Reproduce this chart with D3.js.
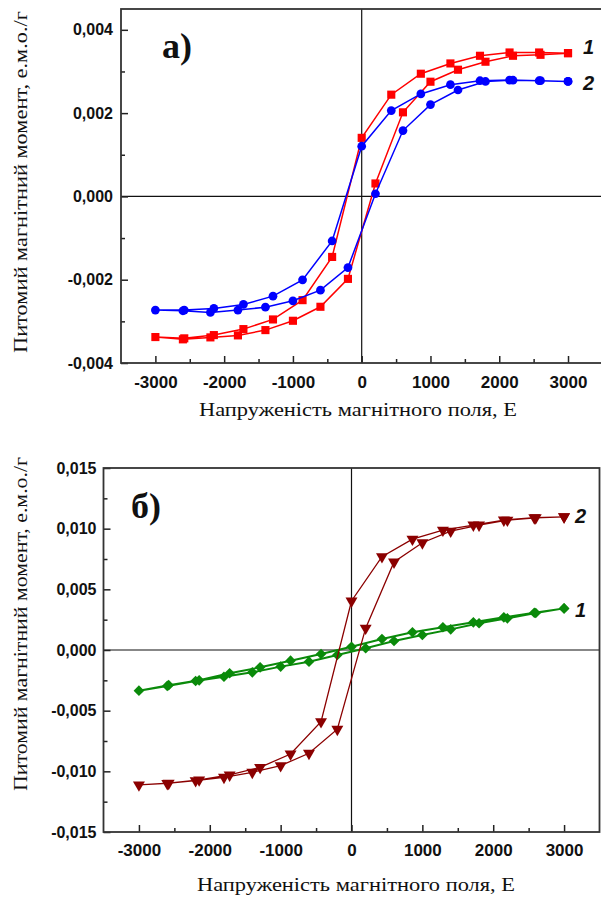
<!DOCTYPE html>
<html>
<head>
<meta charset="utf-8">
<script src="https://cdn.jsdelivr.net/npm/d3@7/dist/d3.min.js"></script>
<style>
  html, body { margin: 0; padding: 0; background: #fff; }
  svg { display: block; }
  .tick text { font-family: "Liberation Sans", Arial, sans-serif; font-weight: bold; font-size: 16px; fill: #111; }
  .domain { display: none; }
</style>
</head>
<body>
<svg id="chart" width="601" height="899"></svg>
<script>
// ---------- data ----------
const fieldDesc = [3000, 2580, 2150, 1720, 1290, 860, 430, 0, -430, -860, -1290, -1720, -2150, -2580, -3000];
const fieldAsc  = [-3000, -2600, -2200, -1800, -1400, -1000, -600, -200, 200, 600, 1000, 1400, 1800, 2200, 2600, 3000];

// panel a) sample 1 (red squares)
const a1Desc = [0.00344, 0.003456, 0.003456, 0.003377, 0.003193, 0.002946, 0.002443, 0.001406, -0.001453, -0.002491, -0.002954, -0.003186, -0.00333, -0.003408, -0.003377];
const a1Asc  = [-0.003377, -0.003432, -0.003385, -0.003337, -0.00321, -0.002986, -0.00265, -0.00198, 0.000311, 0.002019, 0.002754, 0.003042, 0.003234, 0.003377, 0.0034, 0.00344];
// panel a) sample 2 (blue circles)
const a2Desc = [0.002762, 0.002778, 0.002794, 0.002778, 0.002683, 0.00246, 0.00206, 0.001205, -0.00107, -0.002004, -0.002395, -0.002594, -0.00269, -0.00273, -0.00273];
const a2Asc  = [-0.00273, -0.002746, -0.002786, -0.00273, -0.002659, -0.002507, -0.002252, -0.001709, 0.000064, 0.001581, 0.002204, 0.002555, 0.00276, 0.00279, 0.00278, 0.002762];
// panel б) sample 1 (green diamonds)
const b1Desc = [0.00343, 0.00307, 0.00269, 0.00228, 0.00187, 0.00146, 0.00091, 0.00027, -0.00033, -0.00088, -0.00143, -0.00192, -0.0025, -0.0029, -0.00335];
const b1Asc  = [-0.00335, -0.00296, -0.00255, -0.0022, -0.00184, -0.00137, -0.00096, -0.00041, 0.00014, 0.00074, 0.00124, 0.0017, 0.0022, 0.00261, 0.00305, 0.00343];
// panel б) sample 2 (dark red triangles)
const b2Desc = [0.01098, 0.0109, 0.01071, 0.0103, 0.00988, 0.00914, 0.00769, 0.00404, -0.0059, -0.00857, -0.00967, -0.0103, -0.01071, -0.01098, -0.01112];
const b2Asc  = [-0.01112, -0.011, -0.01077, -0.01049, -0.01008, -0.00953, -0.00851, -0.00653, 0.0018, 0.00725, 0.00884, 0.0098, 0.0103, 0.0107, 0.0109, 0.01098];

const xTicksMajor = [-3000, -2000, -1000, 0, 1000, 2000, 3000];
const xTicksMinor = [-2500, -1500, -500, 500, 1500, 2500];
const yTicksA = [-0.004, -0.002, 0, 0.002, 0.004];
const yTicksAMinor = [-0.003, -0.001, 0.001, 0.003];
const yTicksB = [-0.015, -0.010, -0.005, 0, 0.005, 0.010, 0.015];
const yTicksBMinor = [-0.0125, -0.0075, -0.0025, 0.0025, 0.0075, 0.0125];

const xTitle = "Напруженість магнітного поля, Е";
const yTitle = "Питомий магнітний момент, е.м.о./г";

// ---------- drawing ----------
const svg = d3.select("#chart");
const loc = d3.formatLocale({decimal: ",", thousands: "", grouping: [3], currency: ["", ""], minus: "-"});
const fmtY = loc.format(".3f");
const fmtX = loc.format("d");

const symbols = {
  square: d3.symbol().type(d3.symbolSquare).size(66),
  circle: d3.symbol().type(d3.symbolCircle).size(60),
  diamond: d3.symbol().type(d3.symbolDiamond2 || d3.symbolDiamond).size(72),
  triangle: d3.symbol().type(d3.symbolTriangle).size(62)
};

function panel(cfg) {
  const x = d3.scaleLinear().domain([-3500, 3500]).range([cfg.left, cfg.right]);
  const y = d3.scaleLinear().domain(cfg.yDomain).range([cfg.bottom, cfg.top]);
  const g = svg.append("g");

  // zero lines
  g.append("line").attr("x1", cfg.left).attr("x2", cfg.right).attr("y1", y(0)).attr("y2", y(0))
    .attr("stroke", "#111").attr("stroke-width", 1.2);
  g.append("line").attr("x1", x(0)).attr("x2", x(0)).attr("y1", cfg.top).attr("y2", cfg.bottom)
    .attr("stroke", "#111").attr("stroke-width", 1.2);

  // axes
  g.append("g").attr("transform", `translate(0,${cfg.bottom})`)
    .call(d3.axisBottom(x).tickValues(xTicksMajor).tickSize(-7).tickPadding(cfg.xPad).tickFormat(fmtX))
    .call(s => s.selectAll("line").attr("stroke", "#222").attr("stroke-width", 1.5))
    .call(s => s.selectAll("text").style("font-size", "17px"));
  g.append("g").attr("transform", `translate(0,${cfg.bottom})`)
    .call(d3.axisBottom(x).tickValues(xTicksMinor).tickSize(-4).tickFormat(""))
    .call(s => s.selectAll("line").attr("stroke", "#222").attr("stroke-width", 1.5));
  g.append("g").attr("transform", `translate(${cfg.left},0)`)
    .call(d3.axisLeft(y).tickValues(cfg.yTicks).tickSize(-7).tickPadding(cfg.yPad).tickFormat(fmtY))
    .call(s => s.selectAll("line").attr("stroke", "#222").attr("stroke-width", 1.5));
  g.append("g").attr("transform", `translate(${cfg.left},0)`)
    .call(d3.axisLeft(y).tickValues(cfg.yMinor).tickSize(-4).tickFormat(""))
    .call(s => s.selectAll("line").attr("stroke", "#222").attr("stroke-width", 1.5));

  // frame
  g.append("rect").attr("x", cfg.left).attr("y", cfg.top)
    .attr("width", cfg.right - cfg.left).attr("height", cfg.bottom - cfg.top)
    .attr("fill", "none").attr("stroke", "#333").attr("stroke-width", 1.8);

  // series
  const line = d3.line().x(d => x(d[0])).y(d => y(d[1]));
  cfg.series.forEach(s => {
    const pts = fieldDesc.map((h, i) => [h, s.desc[i]]).concat(fieldAsc.slice(1).map((h, i) => [h, s.asc[i + 1]]));
    g.append("path").datum(pts).attr("d", line).attr("fill", "none")
      .attr("stroke", s.color).attr("stroke-width", s.width);
    g.selectAll(null).data(pts).enter().append("path")
      .attr("d", symbols[s.marker])
      .attr("transform", d => `translate(${x(d[0])},${y(d[1])})${s.marker === "triangle" ? " rotate(180)" : ""}`)
      .attr("fill", s.color);
    g.append("text").attr("x", s.labelX).attr("y", s.labelY).text(s.label)
      .attr("font-family", "Liberation Sans, Arial, sans-serif").attr("font-weight", "bold")
      .attr("font-style", "italic").attr("font-size", 20).attr("fill", "#111");
  });

  // panel letter
  g.append("text").attr("x", cfg.letterX).attr("y", cfg.letterY).text(cfg.letter)
    .attr("font-family", "Liberation Serif, Times New Roman, serif").attr("font-weight", "bold")
    .attr("font-size", 36).attr("fill", "#111");

  // axis titles
  g.append("text").attr("x", cfg.xTitleX).attr("y", cfg.xTitleY)
    .attr("text-anchor", "middle").text(xTitle)
    .attr("font-family", "Liberation Serif, Times New Roman, serif").attr("font-size", 19)
    .attr("textLength", 318).attr("lengthAdjust", "spacingAndGlyphs").attr("fill", "#111");
  g.append("text").attr("transform", `translate(27,${cfg.yTitleY}) rotate(-90)`)
    .attr("text-anchor", "middle").text(yTitle)
    .attr("font-family", "Liberation Serif, Times New Roman, serif").attr("font-size", 19)
    .attr("textLength", cfg.yTitleLen).attr("lengthAdjust", "spacingAndGlyphs").attr("fill", "#111");
}

panel({
  left: 121, right: 602.4, top: 9, bottom: 363,
  yDomain: [-0.004, 0.0045], yTicks: yTicksA, yMinor: yTicksAMinor,
  xPad: 13, yPad: 8, letter: "а)", letterX: 162, letterY: 58,
  xTitleX: 358, xTitleY: 416, yTitleY: 182, yTitleLen: 342,
  series: [
    {desc: a1Desc, asc: a1Asc, color: "#ff0000", marker: "square", width: 1.5, label: "1", labelX: 583, labelY: 54},
    {desc: a2Desc, asc: a2Asc, color: "#0000ff", marker: "circle", width: 1.5, label: "2", labelX: 583, labelY: 90}
  ]
});

panel({
  left: 103.5, right: 599.5, top: 468, bottom: 832,
  yDomain: [-0.015, 0.015], yTicks: yTicksB, yMinor: yTicksBMinor,
  xPad: 12, yPad: 7, letter: "б)", letterX: 131, letterY: 518,
  xTitleX: 356, xTitleY: 891, yTitleY: 624, yTitleLen: 334,
  series: [
    {desc: b1Desc, asc: b1Asc, color: "#0a8a0a", marker: "diamond", width: 2, label: "1", labelX: 575, labelY: 617},
    {desc: b2Desc, asc: b2Asc, color: "#8b0000", marker: "triangle", width: 1.3, label: "2", labelX: 575, labelY: 523}
  ]
});
</script>
</body>
</html>
